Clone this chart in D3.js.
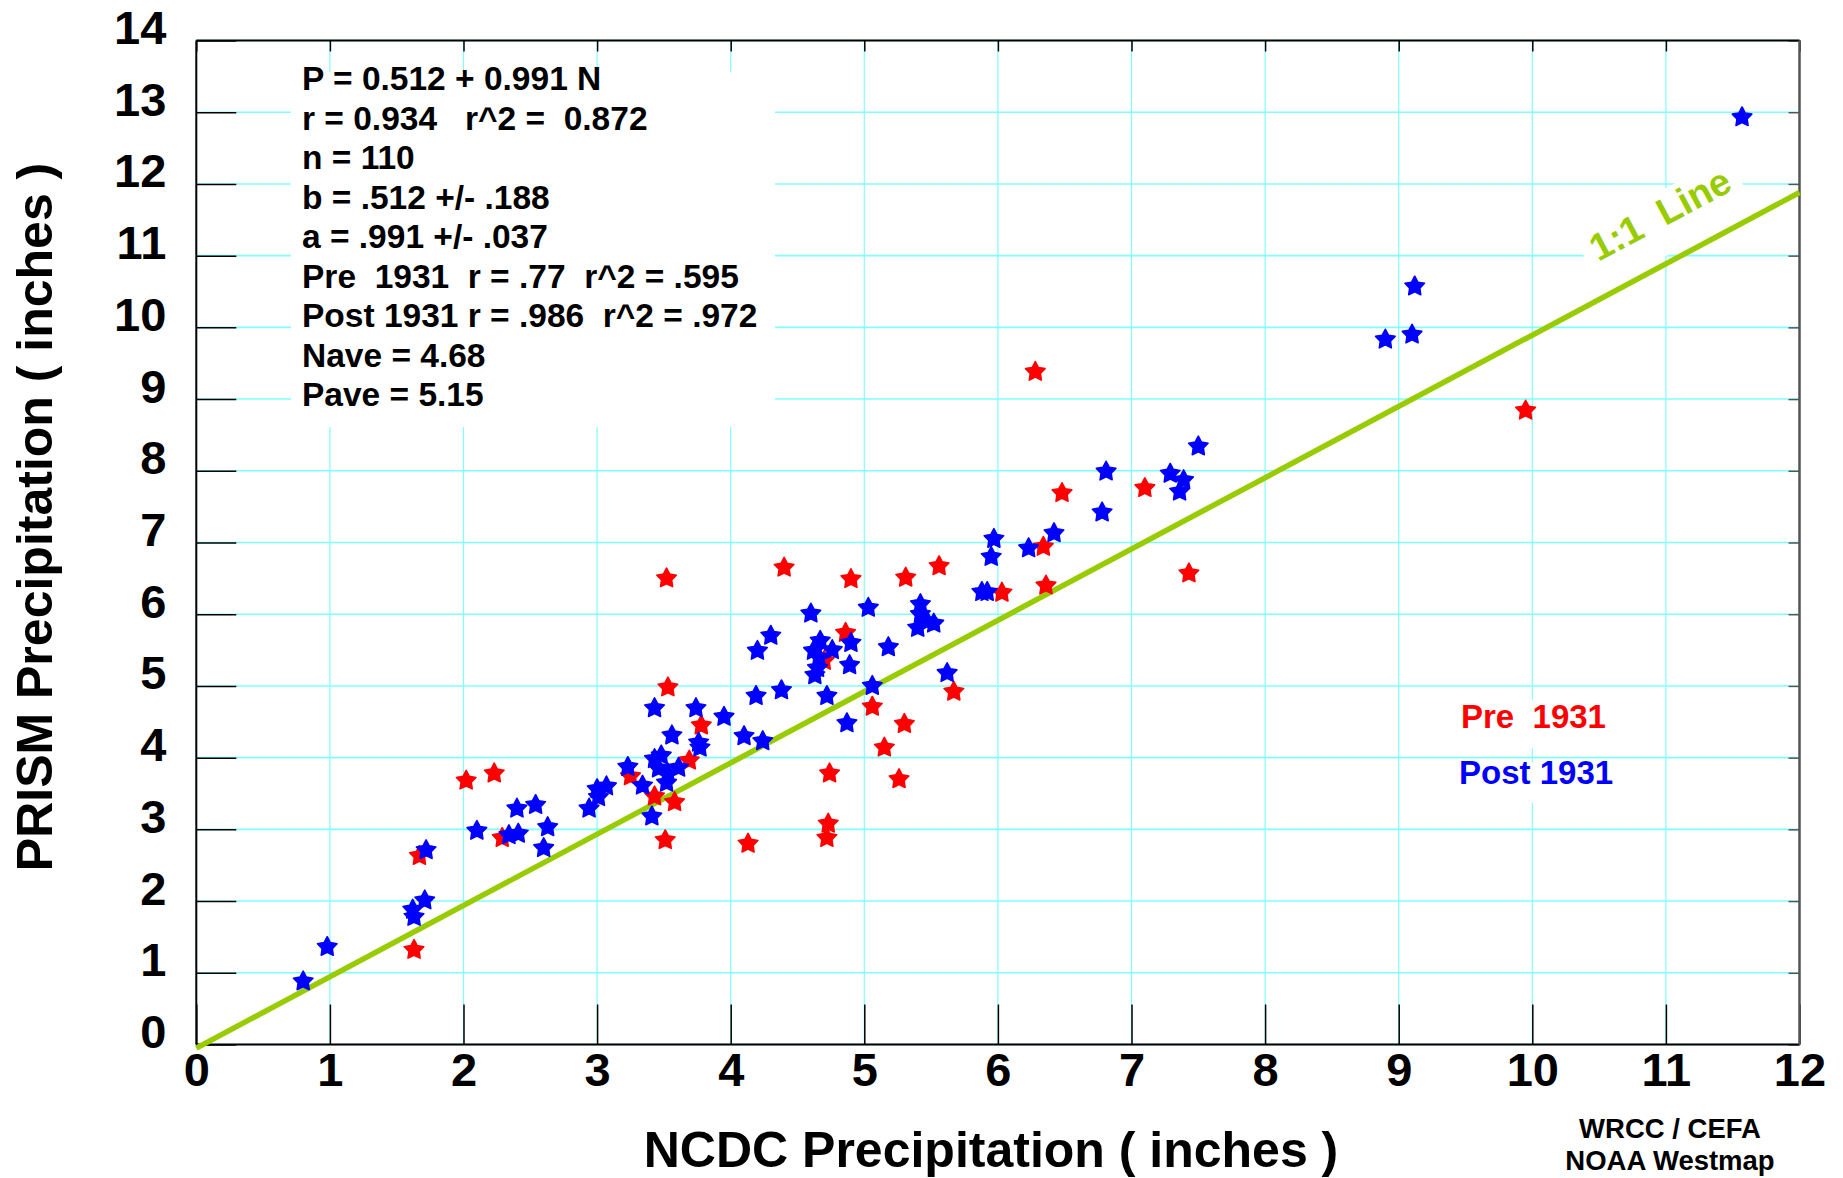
<!DOCTYPE html>
<html>
<head>
<meta charset="utf-8">
<script src="https://cdn.jsdelivr.net/npm/d3@7"></script>
<style>
  html, body { margin: 0; padding: 0; background: #ffffff; }
  svg text { font-family: "Liberation Sans", Arial, Helvetica, sans-serif; font-weight: bold; white-space: pre; }
</style>
</head>
<body>
<svg id="chart" width="1843" height="1178"></svg>
<script>
// ---- data -------------------------------------------------------------
const xTicks = [0, 1, 2, 3, 4, 5, 6, 7, 8, 9, 10, 11, 12];
const yTicks = [0, 1, 2, 3, 4, 5, 6, 7, 8, 9, 10, 11, 12, 13, 14];

// [NCDC, PRISM] precipitation pairs (inches), years before 1931
const pre1931 = [
  [1.63, 1.32], [1.67, 2.63], [2.02, 3.68], [2.23, 3.78], [2.29, 2.88],
  [3.25, 3.74], [3.43, 3.46], [3.51, 2.85], [3.52, 6.50], [3.53, 4.98],
  [3.58, 3.38], [3.69, 3.96], [3.78, 4.45], [4.13, 2.80], [4.40, 6.65],
  [4.70, 5.35], [4.72, 2.88], [4.73, 3.08], [4.74, 3.78], [4.86, 5.74],
  [4.90, 6.49], [5.06, 4.71], [5.15, 4.14], [5.26, 3.70], [5.30, 4.47],
  [5.31, 6.51], [5.56, 6.67], [5.67, 4.92], [6.03, 6.30], [6.28, 9.38],
  [6.34, 6.94], [6.36, 6.40], [6.48, 7.69], [7.10, 7.76], [7.43, 6.57],
  [9.95, 8.84]
];

// [NCDC, PRISM] precipitation pairs (inches), years from 1931 on
const post1931 = [
  [0.80, 0.88], [0.98, 1.36], [1.63, 1.78], [1.62, 1.88], [1.71, 2.01],
  [1.72, 2.71], [2.10, 2.98], [2.34, 2.92], [2.41, 2.94], [2.40, 3.29],
  [2.54, 3.34], [2.60, 2.74], [2.63, 3.03], [2.94, 3.29], [3.00, 3.56],
  [3.07, 3.60], [3.01, 3.45], [3.23, 3.87], [3.34, 3.61], [3.41, 3.18],
  [3.43, 4.69], [3.43, 3.98], [3.48, 4.03], [3.46, 3.85], [3.53, 3.78],
  [3.52, 3.65], [3.61, 3.86], [3.56, 4.31], [3.74, 4.69], [3.76, 4.21],
  [3.77, 4.14], [3.95, 4.57], [4.10, 4.30], [4.24, 4.23], [4.19, 4.86],
  [4.38, 4.94], [4.20, 5.49], [4.30, 5.70], [4.60, 6.01], [4.67, 5.63],
  [4.62, 5.49], [4.76, 5.50], [4.90, 5.60], [4.65, 5.25], [4.63, 5.15],
  [4.89, 5.29], [4.66, 5.40], [4.72, 4.86], [4.87, 4.48], [5.03, 6.09],
  [5.06, 5.00], [5.18, 5.54], [5.42, 6.14], [5.42, 6.00], [5.47, 5.90],
  [5.52, 5.87], [5.40, 5.81], [5.62, 5.18], [5.88, 6.31], [5.92, 6.31],
  [5.95, 6.80], [5.97, 7.05], [6.23, 6.92], [6.42, 7.13], [6.78, 7.42],
  [6.81, 7.99], [7.29, 7.96], [7.39, 7.87], [7.36, 7.71], [7.50, 8.34],
  [8.90, 9.83], [9.10, 9.90], [9.12, 10.57], [11.57, 12.93]
];

// reference line drawn across the plot
const oneToOneLine = [[0, -0.05], [12, 11.88]];

const statsLines = [
  "P = 0.512 + 0.991 N",
  "r = 0.934   r^2 =  0.872",
  "n = 110",
  "b = .512 +/- .188",
  "a = .991 +/- .037",
  "Pre  1931  r = .77  r^2 = .595",
  "Post 1931 r = .986  r^2 = .972",
  "Nave = 4.68",
  "Pave = 5.15"
];
const legendLabels = ["Pre  1931", "Post 1931"];
const seriesColors = ["#ff0000", "#0000ff"];
const lineLabel = "1:1  Line";
const creditLines = ["WRCC / CEFA", "NOAA Westmap"];
const xTitle = "NCDC Precipitation ( inches )";
const yTitle = "PRISM Precipitation ( inches )";

// ---- layout -----------------------------------------------------------
const svg = d3.select("#chart");
const plotL = 196.3, plotR = 1799.5, plotT = 40.5, plotB = 1044.5;
const x = d3.scaleLinear().domain([0, 12]).range([plotL, plotR]);
const y = d3.scaleLinear().domain([0, 14]).range([plotB, plotT]);
const gridColor = "#80ffff";
const lineGreen = "#99cc00";

svg.append("rect").attr("width", 1843).attr("height", 1178).attr("fill", "#ffffff");

// grid
const grid = svg.append("g");
grid.selectAll("line.h").data(yTicks).join("line").attr("class", "h")
  .attr("x1", plotL).attr("x2", plotR)
  .attr("y1", d => y(d)).attr("y2", d => y(d))
  .attr("stroke", gridColor).attr("stroke-width", 1.6);
grid.selectAll("line.v").data(xTicks).join("line").attr("class", "v")
  .attr("y1", plotT).attr("y2", plotB)
  .attr("x1", d => x(d)).attr("x2", d => x(d))
  .attr("stroke", gridColor).attr("stroke-width", 1.2);

// blank panel behind the regression summary
svg.append("rect")
  .attr("x", 291).attr("y", 72).attr("width", 484).attr("height", 355)
  .attr("fill", "#ffffff");

// axes: long inward ticks on left / bottom, short ones on top / right
function styleAxis(g, size) {
  g.select(".domain").remove();
  g.selectAll(".tick line").attr("stroke", "#000").attr("stroke-width", 1.5);
  g.selectAll(".tick text").attr("fill", "#000")
    .style("font-size", size + "px").style("font-family", "'Liberation Sans', Arial, sans-serif")
    .style("font-weight", "bold");
}
svg.append("g").attr("transform", `translate(0,${plotB})`)
  .call(d3.axisBottom(x).tickValues(xTicks).tickSize(-40).tickPadding(8).tickFormat(d3.format("d")))
  .call(g => styleAxis(g, 47));
svg.append("g").attr("transform", `translate(${plotL},0)`)
  .call(d3.axisLeft(y).tickValues(yTicks).tickSize(-40).tickPadding(30).tickFormat(d3.format("d")))
  .call(g => styleAxis(g, 47))
  .call(g => g.selectAll(".tick text").attr("dy", 3));
svg.append("g").attr("transform", `translate(0,${plotT})`)
  .call(d3.axisTop(x).tickValues(xTicks).tickSize(-11).tickFormat(() => ""))
  .call(g => styleAxis(g, 10));
svg.append("g").attr("transform", `translate(${plotR},0)`)
  .call(d3.axisRight(y).tickValues(yTicks).tickSize(-11).tickFormat(() => ""))
  .call(g => styleAxis(g, 10))
  .call(g => g.selectAll(".tick line").attr("stroke", "#555"));

// frame
svg.append("line").attr("x1", plotL).attr("x2", plotR).attr("y1", plotT).attr("y2", plotT)
  .attr("stroke", "#000").attr("stroke-width", 2);
svg.append("line").attr("x1", plotL).attr("x2", plotR).attr("y1", plotB).attr("y2", plotB)
  .attr("stroke", "#000").attr("stroke-width", 2);
svg.append("line").attr("x1", plotL).attr("x2", plotL).attr("y1", plotT).attr("y2", plotB)
  .attr("stroke", "#000").attr("stroke-width", 2);
svg.append("line").attr("x1", plotR).attr("x2", plotR).attr("y1", plotT).attr("y2", plotB)
  .attr("stroke", "#555").attr("stroke-width", 2.5);

// 1:1 label with its blank backing, set along the line
const lineAngle = -Math.atan2(
  (y(oneToOneLine[0][1]) - y(oneToOneLine[1][1])),
  (x(oneToOneLine[1][0]) - x(oneToOneLine[0][0]))) * 180 / Math.PI;
const lbl = svg.append("g").attr("transform", `translate(1660,214) rotate(${lineAngle})`);
lbl.append("rect").attr("x", -87).attr("y", -20).attr("width", 174).attr("height", 60).attr("fill", "#fff");
lbl.append("text").attr("text-anchor", "middle").attr("dy", "0.35em")
  .style("font-size", "38px").attr("fill", lineGreen).text(lineLabel);

// 1:1 line
svg.append("path")
  .attr("d", d3.line().x(d => x(d[0])).y(d => y(d[1]))(oneToOneLine))
  .attr("stroke", lineGreen).attr("stroke-width", 5.5).attr("fill", "none");

// star markers
const fatStar = {
  draw(context, size) {
    const R = Math.sqrt(size), r = R * 0.52;
    for (let i = 0; i < 10; i++) {
      const a = -Math.PI / 2 + i * Math.PI / 5;
      const rad = i % 2 ? r : R;
      const px = rad * Math.cos(a), py = rad * Math.sin(a);
      if (i === 0) context.moveTo(px, py); else context.lineTo(px, py);
    }
    context.closePath();
  }
};
const starPath = d3.symbol().type(fatStar).size(105)();
[pre1931, post1931].forEach((series, i) => {
  svg.append("g").selectAll("path").data(series).join("path")
    .attr("d", starPath)
    .attr("transform", d => `translate(${x(d[0])},${y(d[1])})`)
    .attr("fill", seriesColors[i]).attr("stroke", seriesColors[i])
    .attr("stroke-width", 1.6).attr("stroke-linejoin", "round");
});

// regression summary
svg.append("g").selectAll("text").data(statsLines).join("text")
  .attr("x", 302).attr("y", (d, i) => 90 + i * 39.5)
  .style("font-size", "33.5px").attr("fill", "#000").text(d => d);

// series legend
const legendBoxes = [[1452, 700, 162, 48], [1450, 762, 168, 41]];
const legendBase = [[1461, 728], [1459, 784]];
legendLabels.forEach((t, i) => {
  svg.append("rect").attr("x", legendBoxes[i][0]).attr("y", legendBoxes[i][1])
    .attr("width", legendBoxes[i][2]).attr("height", legendBoxes[i][3]).attr("fill", "#fff");
  svg.append("text").attr("x", legendBase[i][0]).attr("y", legendBase[i][1])
    .style("font-size", "33px").attr("fill", seriesColors[i]).text(t);
});

// axis titles
svg.append("text").attr("x", 991).attr("y", 1167).attr("text-anchor", "middle")
  .style("font-size", "50px").attr("fill", "#000").text(xTitle);
svg.append("text").attr("transform", "translate(52,517) rotate(-90)").attr("text-anchor", "middle")
  .style("font-size", "50px").attr("fill", "#000").text(yTitle);

// credits
svg.append("g").selectAll("text").data(creditLines).join("text")
  .attr("x", 1670).attr("y", (d, i) => 1138 + i * 32).attr("text-anchor", "middle")
  .style("font-size", "27.5px").attr("fill", "#000").text(d => d);
</script>
</body>
</html>
